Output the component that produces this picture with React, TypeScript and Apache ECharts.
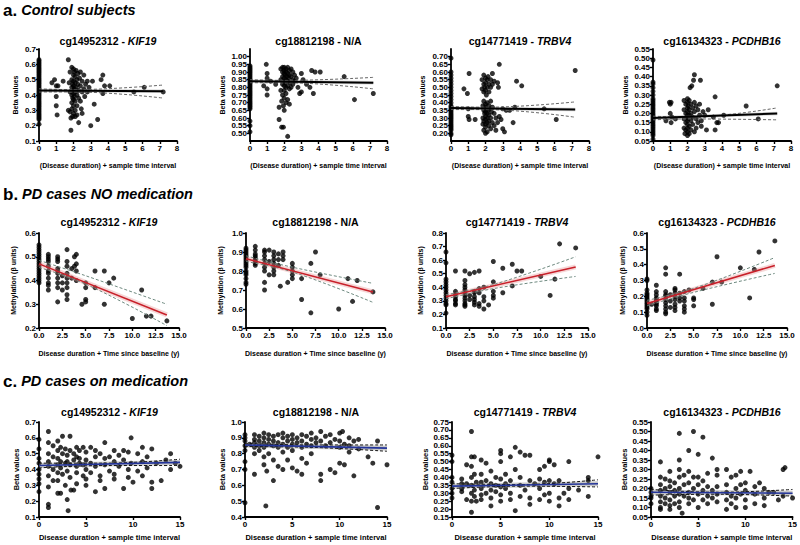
import React, { useEffect, useRef } from "react";
import * as echarts from "echarts";

const FONT = "'Liberation Sans', Arial, Helvetica, sans-serif";

// ---------- texts ----------
const sectionLetters = ["a.", "b.", "c."];
const sectionTitles = ["Control subjects", "PD cases NO medication", "PD cases on medication"];
const probeIds = ["cg14952312", "cg18812198", "cg14771419", "cg16134323"];
const geneNames = ["KIF19", "N/A", "TRBV4", "PCDHB16"];
const xAxisNames = [
  "(Disease duration) + sample time interval",
  "Disease duration + Time since baseline (y)",
  "Disease duration + sample time interval",
];
const yAxisNames = ["Beta values", "Methylation (\u03b2 units)", "Beta values"];

// ---------- axis ranges (min, max, interval) ----------
const xRanges = [[0, 8, 1], [0, 15, 2.5], [0, 15, 5]];
const xDecimals = [0, 1, 0];
const yRanges = [
  [0.1, 0.7, 0.1], [0.45, 1.05, 0.05], [0.15, 0.75, 0.05], [0.05, 0.55, 0.05],
  [0.2, 0.6, 0.1], [0.5, 1.0, 0.1], [0.1, 0.8, 0.1], [0.0, 0.6, 0.1],
  [0.1, 0.7, 0.1], [0.4, 1.0, 0.1], [0.15, 0.75, 0.05], [0.05, 0.55, 0.05],
];
const yDecimals = [1, 2, 2, 2, 1, 1, 1, 1, 1, 1, 2, 2];

// ---------- a. Control subjects ----------
const aKIF19Zero = [0.63,0.62,0.61,0.60,0.59,0.58,0.57,0.56,0.55,0.54,0.53,0.52,0.51,0.50,0.49,0.48,0.47,0.46,0.45,0.44,0.43,0.42,0.41,0.40,0.39,0.38,0.37,0.36,0.35,0.34,0.33,0.32,0.31,0.30,0.29,0.28,0.27,0.26,0.25,0.24,0.21];
const aKIF19Pts = [[0.75,0.48],[0.9,0.5],[1.0,0.46],[1.0,0.39],[1.0,0.33],[1.05,0.27],[1.1,0.46],[1.4,0.49],
  [1.7,0.63],[1.7,0.3],[1.75,0.48],[1.8,0.29],[1.8,0.55],[1.8,0.42],[1.85,0.17],[1.85,0.25],[1.9,0.58],[1.9,0.5],[1.9,0.45],[1.9,0.4],[1.9,0.35],[1.9,0.31],
  [1.95,0.47],[1.95,0.38],[1.95,0.26],[2.0,0.57],[2.0,0.53],[2.0,0.49],[2.0,0.46],[2.0,0.43],[2.0,0.41],[2.0,0.37],[2.0,0.33],[2.0,0.28],
  [2.05,0.55],[2.05,0.44],[2.05,0.39],[2.1,0.52],[2.1,0.48],[2.1,0.42],[2.1,0.36],[2.1,0.3],[2.1,0.26],[2.15,0.56],[2.15,0.45],
  [2.2,0.5],[2.2,0.4],[2.2,0.33],[2.2,0.27],[2.25,0.54],[2.25,0.47],[2.3,0.43],[2.3,0.22],[2.3,0.38],[2.35,0.51],[2.4,0.55],[2.4,0.46],[2.4,0.36],
  [2.45,0.31],[2.5,0.49],[2.5,0.42],[2.5,0.28],[2.6,0.53],[2.6,0.44],[2.65,0.39],[2.7,0.47],[2.8,0.49],[2.8,0.42],[2.9,0.45],[3.0,0.2],[3.1,0.49],
  [3.2,0.34],[3.4,0.24],[3.6,0.5],[3.7,0.53],[3.7,0.41],[3.8,0.46],[4.1,0.46],[5.5,0.42],[6.1,0.45],[7.2,0.42]];
const aKIF19Fit = [[0, 0.43], [7.2, 0.425]];
const aKIF19Up = [[0, 0.44], [2, 0.435], [7.2, 0.465]];
const aKIF19Lo = [[0, 0.42], [2, 0.42], [7.2, 0.38]];

const aNAZero = [0.94,0.93,0.92,0.91,0.90,0.89,0.88,0.87,0.86,0.85,0.84,0.83,0.82,0.81,0.80,0.79,0.78,0.77,0.76,0.75,0.74,0.73,0.72,0.71,0.70,0.69,0.68,0.67,0.66,0.58,0.55,0.51];
const aNAPts = [[0.8,0.81],[0.95,0.95],[1.0,0.89],[1.0,0.86],[1.0,0.79],[1.0,0.75],[1.2,0.84],[1.5,0.82],
  [1.7,0.67],[1.7,0.59],[1.8,0.92],[1.8,0.85],[1.8,0.78],[1.85,0.54],[1.85,0.71],[1.9,0.93],[1.9,0.9],[1.9,0.87],[1.9,0.82],[1.9,0.75],[1.95,0.54],[1.95,0.68],
  [2.0,0.93],[2.0,0.91],[2.0,0.89],[2.0,0.86],[2.0,0.84],[2.0,0.81],[2.0,0.78],[2.0,0.73],[2.0,0.65],[2.05,0.88],[2.05,0.83],
  [2.1,0.92],[2.1,0.9],[2.1,0.85],[2.1,0.8],[2.1,0.76],[2.1,0.7],[2.15,0.87],[2.2,0.93],[2.2,0.89],[2.2,0.84],[2.2,0.81],[2.2,0.72],[2.2,0.48],
  [2.25,0.86],[2.3,0.91],[2.3,0.88],[2.3,0.79],[2.3,0.69],[2.35,0.83],[2.4,0.92],[2.4,0.87],[2.4,0.8],[2.5,0.9],[2.5,0.85],[2.5,0.82],
  [2.6,0.88],[2.6,0.84],[2.7,0.86],[2.8,0.8],[2.9,0.76],[3.0,0.89],[3.0,0.77],[3.1,0.85],[3.3,0.82],[3.5,0.8],[3.6,0.91],[3.7,0.76],
  [3.8,0.9],[4.1,0.9],[5.5,0.87],[6.1,0.72],[7.2,0.76]];
const aNAFit = [[0, 0.84], [7.2, 0.83]];
const aNAUp = [[0, 0.85], [2, 0.845], [7.2, 0.865]];
const aNALo = [[0, 0.83], [2, 0.83], [7.2, 0.79]];

const aTRBV4Zero = [0.69,0.60,0.58,0.56,0.54,0.52,0.50,0.48,0.46,0.44,0.42,0.40,0.38,0.37,0.36,0.35,0.34,0.33,0.32,0.31,0.30,0.29,0.28,0.27,0.26,0.25,0.24,0.23,0.22,0.20,0.19];
const aTRBV4Pts = [[0.75,0.49],[0.95,0.46],[1.0,0.36],[1.0,0.31],[1.05,0.59],[1.05,0.29],[1.4,0.29],
  [1.8,0.55],[1.8,0.49],[1.85,0.38],[1.85,0.3],[1.85,0.26],[1.9,0.58],[1.9,0.52],[1.9,0.47],[1.9,0.41],[1.9,0.35],[1.9,0.28],[1.9,0.22],
  [1.95,0.5],[1.95,0.33],[2.0,0.56],[2.0,0.53],[2.0,0.48],[2.0,0.39],[2.0,0.37],[2.0,0.34],[2.0,0.31],[2.0,0.29],[2.0,0.26],[2.0,0.24],[2.0,0.2],
  [2.05,0.45],[2.05,0.36],[2.1,0.55],[2.1,0.5],[2.1,0.4],[2.1,0.33],[2.1,0.3],[2.1,0.27],[2.1,0.21],[2.15,0.57],[2.15,0.35],
  [2.2,0.52],[2.2,0.47],[2.2,0.38],[2.2,0.32],[2.2,0.28],[2.2,0.25],[2.25,0.36],[2.3,0.55],[2.3,0.5],[2.3,0.41],[2.3,0.3],[2.3,0.23],
  [2.35,0.34],[2.4,0.59],[2.4,0.52],[2.4,0.37],[2.4,0.27],[2.5,0.54],[2.5,0.33],[2.5,0.25],[2.6,0.3],[2.6,0.22],[2.7,0.53],[2.7,0.27],
  [2.75,0.5],[2.8,0.65],[2.8,0.31],[2.9,0.29],[3.0,0.23],[3.0,0.36],[3.1,0.21],[3.2,0.35],[3.4,0.35],[3.6,0.27],[3.7,0.37],[3.8,0.54],
  [4.1,0.51],[5.4,0.36],[6.1,0.29],[7.2,0.61]];
const aTRBV4Fit = [[0, 0.365], [7.2, 0.355]];
const aTRBV4Up = [[0, 0.375], [2, 0.37], [7.2, 0.405]];
const aTRBV4Lo = [[0, 0.355], [2, 0.355], [7.2, 0.305]];

const aPCDHZero = [0.49,0.37,0.36,0.34,0.32,0.30,0.28,0.27,0.26,0.25,0.24,0.23,0.22,0.21,0.20,0.19,0.18,0.17,0.16,0.15,0.14,0.13,0.12,0.11,0.10,0.09,0.08,0.06];
const aPCDHPts = [[0.75,0.16],[0.95,0.26],[1.0,0.25],[1.0,0.2],[1.05,0.26],[1.05,0.15],[1.1,0.18],[1.3,0.17],
  [1.8,0.27],[1.8,0.22],[1.8,0.17],[1.8,0.12],[1.85,0.09],[1.9,0.25],[1.9,0.2],[1.9,0.15],[1.9,0.11],[1.95,0.18],
  [2.0,0.28],[2.0,0.26],[2.0,0.23],[2.0,0.21],[2.0,0.19],[2.0,0.16],[2.0,0.14],[2.0,0.12],[2.0,0.1],[2.0,0.08],[2.05,0.24],[2.05,0.17],
  [2.1,0.27],[2.1,0.22],[2.1,0.19],[2.1,0.13],[2.1,0.09],[2.15,0.34],[2.2,0.25],[2.2,0.2],[2.2,0.16],[2.2,0.11],[2.25,0.35],
  [2.3,0.23],[2.3,0.18],[2.3,0.14],[2.35,0.38],[2.4,0.41],[2.4,0.26],[2.4,0.21],[2.4,0.1],[2.5,0.24],[2.5,0.17],[2.5,0.12],
  [2.6,0.22],[2.6,0.15],[2.7,0.25],[2.7,0.19],[2.75,0.38],[2.8,0.16],[2.8,0.13],[2.9,0.21],[3.0,0.19],[3.1,0.11],[3.2,0.22],
  [3.5,0.18],[3.6,0.11],[3.6,0.29],[3.7,0.15],[3.8,0.15],[4.1,0.19],[5.4,0.24],[6.1,0.17],[7.2,0.35]];
const aPCDHFit = [[0, 0.175], [7.2, 0.2]];
const aPCDHUp = [[0, 0.185], [2, 0.18], [7.2, 0.23]];
const aPCDHLo = [[0, 0.165], [2, 0.17], [7.2, 0.165]];

// ---------- b. PD cases NO medication ----------
const bKIF19Zero = [0.55,0.54,0.53,0.52,0.51,0.50,0.49,0.48,0.47,0.46,0.45,0.44,0.43,0.42,0.41,0.40,0.39];
const bKIF19Pts = [[1,0.51],[1,0.5],[1,0.49],[1,0.48],[1,0.46],[1,0.44],[1,0.43],[1,0.41],[1,0.39],[1,0.38],[1,0.36],
  [2,0.5],[2,0.49],[2,0.48],[2,0.45],[2,0.44],[2,0.43],[2,0.41],[2,0.39],[2,0.37],[2,0.31],[2.5,0.39],[2.5,0.36],[2.5,0.42],
  [3,0.53],[3,0.48],[3,0.46],[3,0.43],[3,0.41],[3,0.39],[3,0.37],[3,0.34],[3,0.32],[3.5,0.45],[3.5,0.41],[3.8,0.5],[3.8,0.46],
  [4,0.51],[4,0.47],[4,0.44],[4,0.4],[4.6,0.3],[5,0.39],[5,0.37],[5,0.32],[5,0.31],[6,0.44],[6,0.37],[7,0.44],[7,0.3],
  [7.5,0.39],[8,0.41],[10,0.24],[11,0.36],[11.5,0.25],[12,0.25],[13.7,0.23]];
const bKIF19Fit = [[0, 0.47], [13.7, 0.255]];
const bKIF19Up = [[0, 0.485], [5, 0.42], [13.7, 0.3]];
const bKIF19Lo = [[0, 0.455], [5, 0.385], [13.7, 0.21]];

const bNAZero = [0.92,0.91,0.90,0.89,0.88,0.87,0.86,0.85,0.84,0.83,0.82,0.80,0.79,0.78,0.76,0.74,0.73];
const bNAPts = [[1,0.93],[1,0.91],[1,0.89],[1,0.88],[1,0.87],[1,0.86],[1,0.85],[1,0.84],[1,0.83],
  [2,0.91],[2,0.9],[2,0.88],[2,0.86],[2,0.84],[2,0.82],[2,0.8],[2,0.74],[2,0.7],[2.5,0.91],[2.5,0.85],[2.5,0.78],
  [3,0.9],[3,0.88],[3,0.86],[3,0.84],[3,0.82],[3,0.8],[3,0.78],[3.5,0.89],[3.5,0.86],[3.5,0.83],[3.7,0.72],
  [4,0.9],[4,0.88],[4,0.86],[4.5,0.74],[5,0.84],[5,0.82],[5,0.8],[5,0.78],[5,0.76],[6,0.76],[6,0.65],[7,0.84],[7,0.58],
  [7.5,0.9],[8,0.78],[10,0.6],[11,0.76],[11.5,0.64],[12,0.75],[13.7,0.69]];
const bNAFit = [[0, 0.865], [13.7, 0.69]];
const bNAUp = [[0, 0.88], [5, 0.82], [13.7, 0.735]];
const bNALo = [[0, 0.85], [5, 0.795], [13.7, 0.635]];

const bTRBV4Zero = [0.66,0.58,0.46,0.44,0.42,0.40,0.38,0.36,0.34,0.32,0.30,0.28,0.27,0.21];
const bTRBV4Pts = [[1,0.52],[1,0.37],[1,0.35],[1,0.33],[1,0.31],[1,0.3],[1,0.28],[1,0.27],
  [2,0.52],[2,0.45],[2,0.42],[2,0.4],[2,0.38],[2,0.36],[2,0.34],[2,0.32],[2,0.3],[2,0.28],[2,0.27],[2,0.26],[2.5,0.5],[2.5,0.34],[2.5,0.31],
  [3,0.51],[3,0.37],[3,0.36],[3,0.33],[3,0.31],[3,0.29],[3,0.27],[3.5,0.52],[3.5,0.39],[3.5,0.36],[3.5,0.28],[3.5,0.26],
  [4,0.4],[4,0.33],[4,0.3],[4,0.24],[4.5,0.27],[5,0.59],[5,0.44],[5,0.37],[5,0.34],[5,0.32],[6,0.54],[6,0.36],[7,0.57],[7,0.41],
  [7.5,0.52],[8,0.52],[10,0.48],[11,0.34],[11.5,0.46],[12,0.72],[13.7,0.69]];
const bTRBV4Fit = [[0, 0.33], [13.7, 0.55]];
const bTRBV4Up = [[0, 0.345], [5, 0.42], [13.7, 0.625]];
const bTRBV4Lo = [[0, 0.315], [5, 0.39], [13.7, 0.48]];

const bPCDHZero = [0.31,0.30,0.24,0.22,0.21,0.20,0.19,0.18,0.17,0.16,0.15,0.14,0.13,0.12,0.10,0.08];
const bPCDHPts = [[0.5,0.15],[1,0.27],[1,0.23],[1,0.21],[1,0.19],[1,0.18],[1,0.17],[1,0.16],[1,0.15],[1,0.14],[1,0.12],[1,0.11],
  [2,0.38],[2,0.34],[2,0.23],[2,0.21],[2,0.2],[2,0.18],[2,0.16],[2,0.14],[2,0.12],[2,0.1],[2,0.09],[2.5,0.21],[2.5,0.17],[2.5,0.13],
  [3,0.25],[3,0.24],[3,0.22],[3,0.2],[3,0.18],[3,0.15],[3,0.13],[3,0.11],[3.5,0.34],[3.5,0.22],[3.5,0.19],[3.5,0.17],
  [4,0.23],[4,0.19],[4,0.17],[4,0.14],[4,0.12],[4,0.1],[4.5,0.24],[5,0.19],[5,0.18],[5,0.14],[6,0.25],[7,0.29],[7,0.15],
  [7.5,0.45],[8,0.29],[10,0.38],[11,0.19],[11.5,0.37],[12,0.48],[13.7,0.55]];
const bPCDHFit = [[0, 0.155], [13.7, 0.395]];
const bPCDHUp = [[0, 0.175], [5, 0.25], [13.7, 0.445]];
const bPCDHLo = [[0, 0.14], [5, 0.225], [13.7, 0.345]];

// ---------- c. PD cases on medication ----------
const cKIF19Zero = [0.59,0.53,0.47,0.44,0.40,0.37,0.34,0.31,0.26];
const cKIF19Pts = [[1,0.64],[1,0.57],[1,0.5],[1,0.45],[1,0.42],[1,0.36],[1,0.29],[1,0.18],[1,0.16],
  [1.5,0.55],[1.5,0.48],[1.5,0.4],[1.5,0.33],[2,0.58],[2,0.52],[2,0.47],[2,0.43],[2,0.38],[2,0.33],[2,0.25],
  [2.3,0.54],[2.3,0.45],[2.3,0.41],[2.3,0.25],[2.5,0.61],[2.5,0.5],[2.5,0.37],[2.8,0.53],[2.8,0.44],[2.8,0.3],
  [3,0.49],[3,0.45],[3,0.39],[3,0.21],[3.1,0.14],[3.3,0.61],[3.3,0.52],[3.3,0.43],[3.3,0.35],[3.4,0.27],[3.7,0.5],[3.7,0.46],[3.7,0.27],
  [4,0.54],[4,0.48],[4,0.42],[4,0.38],[4,0.31],[4.3,0.52],[4.3,0.47],[4.3,0.44],[4.7,0.54],[4.7,0.43],[4.7,0.36],
  [5,0.51],[5,0.46],[5,0.4],[5,0.34],[5,0.3],[5.5,0.54],[5.5,0.44],[5.5,0.38],[6,0.52],[6,0.48],[6,0.42],[6,0.26],
  [6.5,0.5],[6.5,0.36],[6.5,0.33],[7,0.57],[7,0.47],[7,0.43],[7,0.28],[7.5,0.48],[7.5,0.39],[8,0.52],[8,0.45],[8,0.37],[8,0.34],
  [8.5,0.49],[8.5,0.42],[9,0.52],[9,0.46],[9,0.28],[9.5,0.51],[9.5,0.4],[9.5,0.35],[9.8,0.6],[9.8,0.44],[10,0.32],
  [10.5,0.5],[10.5,0.39],[11,0.54],[11,0.45],[11,0.36],[11.5,0.48],[11.5,0.41],[12,0.53],[12,0.32],[12,0.28],
  [12.5,0.44],[13,0.33],[13.5,0.46],[14,0.5],[14,0.4],[14.5,0.44],[15,0.42]];
const cKIF19Fit = [[0, 0.425], [15, 0.445]];
const cKIF19Up = [[0, 0.44], [7, 0.44], [15, 0.465]];
const cKIF19Lo = [[0, 0.41], [7, 0.425], [15, 0.425]];

const cNAZero = [0.92,0.90,0.88,0.85,0.82,0.75,0.70,0.49];
const cNAPts = [[0.5,0.86],[1,0.92],[1,0.89],[1,0.87],[1,0.84],[1,0.8],[1,0.67],[1.5,0.91],[1.5,0.88],[1.5,0.85],[1.5,0.82],
  [2,0.93],[2,0.9],[2,0.87],[2,0.84],[2,0.78],[2,0.73],[2.2,0.47],[2.3,0.69],[2.5,0.92],[2.5,0.89],[2.5,0.86],[2.5,0.8],
  [3,0.91],[3,0.88],[3,0.85],[3,0.76],[3,0.63],[3.5,0.92],[3.5,0.87],[3.5,0.84],[3.5,0.72],[4,0.93],[4,0.9],[4,0.86],[4,0.81],[4,0.7],
  [4.5,0.91],[4.5,0.88],[4.5,0.84],[4.5,0.76],[5,0.92],[5,0.89],[5,0.86],[5,0.82],[5,0.71],[5.5,0.9],[5.5,0.87],[5.5,0.69],
  [6,0.92],[6,0.88],[6,0.84],[6,0.77],[6,0.67],[6.5,0.91],[6.5,0.86],[6.5,0.74],[7,0.93],[7,0.89],[7,0.85],[7,0.8],
  [7.5,0.9],[7.5,0.87],[8,0.94],[8,0.88],[8,0.67],[8,0.63],[8.5,0.91],[8.5,0.85],[9,0.92],[9,0.87],[9,0.7],[9.5,0.89],[9.5,0.68],
  [10,0.93],[10,0.88],[10,0.84],[10,0.74],[10.3,0.94],[10.5,0.86],[10.5,0.73],[11,0.9],[11,0.85],[11,0.81],[11.5,0.88],[11.5,0.66],
  [12,0.89],[12,0.83],[13,0.78],[13.5,0.74],[14,0.88],[14,0.46],[15,0.73]];
const cNAFit = [[0, 0.855], [15, 0.835]];
const cNAUp = [[0, 0.865], [7, 0.855], [15, 0.855]];
const cNALo = [[0, 0.845], [7, 0.84], [15, 0.815]];

const cTRBV4Zero = [0.54,0.50,0.40,0.37,0.33,0.30,0.27];
const cTRBV4Pts = [[1,0.39],[1,0.36],[1,0.33],[1,0.31],[1.5,0.48],[1.5,0.36],[1.5,0.26],
  [2,0.69],[2,0.53],[2,0.47],[2,0.4],[2,0.35],[2,0.3],[2,0.25],[2,0.18],[2.3,0.53],[2.3,0.42],[2.3,0.32],[2.3,0.28],[2.5,0.37],[2.5,0.25],
  [3,0.51],[3,0.42],[3,0.37],[3,0.33],[3,0.29],[3,0.26],[3.5,0.49],[3.5,0.38],[3.5,0.3],[4,0.44],[4,0.36],[4,0.32],[4,0.27],[4,0.22],
  [4.5,0.4],[4.5,0.35],[4.5,0.31],[5,0.57],[5,0.55],[5,0.5],[5,0.39],[5,0.34],[5,0.29],[5,0.25],[5.5,0.42],[5.5,0.36],[5.5,0.33],
  [6,0.53],[6,0.38],[6,0.3],[6,0.26],[6.5,0.59],[6.5,0.19],[6.5,0.45],[7,0.56],[7,0.4],[7,0.35],[7,0.28],[7.5,0.54],[7.5,0.32],
  [8,0.54],[8,0.38],[8,0.27],[8,0.23],[8.5,0.36],[9,0.45],[9,0.39],[9,0.33],[9,0.26],[9.5,0.47],[9.5,0.37],[9.5,0.29],
  [10,0.51],[10,0.5],[10,0.38],[10,0.3],[10,0.25],[10.5,0.48],[10.5,0.36],[11,0.38],[11,0.27],[11,0.22],[11.5,0.3],
  [12,0.5],[12,0.33],[12,0.26],[13,0.32],[14,0.4],[14,0.38],[14,0.28],[15,0.53]];
const cTRBV4Fit = [[0, 0.345], [15, 0.36]];
const cTRBV4Up = [[0, 0.36], [7, 0.355], [15, 0.385]];
const cTRBV4Lo = [[0, 0.33], [7, 0.345], [15, 0.34]];

const cPCDHZero = [0.20,0.18,0.16,0.15,0.12];
const cPCDHPts = [[1,0.34],[1,0.26],[1,0.22],[1,0.19],[1,0.16],[1,0.13],[1,0.1],[1,0.09],[1.5,0.25],[1.5,0.2],[1.5,0.15],[1.5,0.12],
  [2,0.29],[2,0.24],[2,0.21],[2,0.18],[2,0.14],[2,0.11],[2,0.09],[2.5,0.23],[2.5,0.19],[2.5,0.16],[2.5,0.12],
  [3,0.49],[3,0.35],[3,0.3],[3,0.26],[3,0.2],[3,0.17],[3,0.13],[3,0.1],[3.3,0.07],[3.5,0.27],[3.5,0.22],[3.5,0.16],
  [4,0.4],[4,0.29],[4,0.23],[4,0.18],[4,0.15],[4,0.12],[4.5,0.5],[4.5,0.26],[4.5,0.2],[4.5,0.14],[5,0.38],[5,0.26],[5,0.22],[5,0.17],[5,0.1],
  [5.5,0.47],[5.5,0.24],[5.5,0.19],[5.5,0.14],[6,0.28],[6,0.21],[6,0.16],[6,0.12],[6.5,0.36],[6.5,0.19],[6.5,0.15],
  [7,0.3],[7,0.27],[7,0.21],[7,0.17],[7,0.13],[8,0.3],[8,0.22],[8,0.18],[8,0.14],[8,0.09],[8.5,0.26],[8.5,0.16],[8.5,0.12],
  [9,0.27],[9,0.2],[9,0.15],[9,0.1],[9.5,0.29],[9.5,0.22],[9.5,0.17],[10,0.23],[10,0.19],[10,0.14],[10,0.1],[10.5,0.29],
  [11,0.21],[11,0.17],[11,0.12],[11.5,0.23],[12,0.2],[12,0.15],[12,0.11],[12.5,0.18],[13,0.18],[13.5,0.14],[14,0.3],[14.2,0.31],[14,0.16],[15,0.15]];
const cPCDHFit = [[0, 0.18], [15, 0.175]];
const cPCDHUp = [[0, 0.195], [7, 0.18], [15, 0.195]];
const cPCDHLo = [[0, 0.165], [7, 0.17], [15, 0.16]];

const panelSeries = [
  [aKIF19Zero, aKIF19Pts, aKIF19Fit, aKIF19Up, aKIF19Lo],
  [aNAZero, aNAPts, aNAFit, aNAUp, aNALo],
  [aTRBV4Zero, aTRBV4Pts, aTRBV4Fit, aTRBV4Up, aTRBV4Lo],
  [aPCDHZero, aPCDHPts, aPCDHFit, aPCDHUp, aPCDHLo],
  [bKIF19Zero, bKIF19Pts, bKIF19Fit, bKIF19Up, bKIF19Lo],
  [bNAZero, bNAPts, bNAFit, bNAUp, bNALo],
  [bTRBV4Zero, bTRBV4Pts, bTRBV4Fit, bTRBV4Up, bTRBV4Lo],
  [bPCDHZero, bPCDHPts, bPCDHFit, bPCDHUp, bPCDHLo],
  [cKIF19Zero, cKIF19Pts, cKIF19Fit, cKIF19Up, cKIF19Lo],
  [cNAZero, cNAPts, cNAFit, cNAUp, cNALo],
  [cTRBV4Zero, cTRBV4Pts, cTRBV4Fit, cTRBV4Up, cTRBV4Lo],
  [cPCDHZero, cPCDHPts, cPCDHFit, cPCDHUp, cPCDHLo],
] as any[];

// ---------- layout ----------
const rowTops = [49, 233, 422];
const rowHeights = [92, 95, 95];
const panelLefts = [[39, 250, 451, 653], [39, 246, 446, 647], [39, 245, 452, 651]];
const panelWidths = [[138, 137, 138, 138], [140, 139, 142, 140], [141, 142, 146, 142]];
const titleYs = [41, 222, 412];
const sectionYs = [10, 194, 381];
const yNameGaps = [[20, 24, 25, 24], [22, 22, 22, 21], [18, 18, 20, 20]];
const xNameGaps = [21, 22, 16];
const fitColors = ["#000000", "#c8202a", "#23349a"];
const fitWidths = [2, 1.6, 1.6];
const bandColors = ["#666666", "#6f8a80", "#111111"];
const glowColors = ["rgba(120,120,120,0.3)", "rgba(230,140,140,0.35)", "rgba(120,120,120,0.4)"];
const glowWidths = [3.5, 5, 5];

function buildOption() {
  const grid: any[] = [], xAxis: any[] = [], yAxis: any[] = [], series: any[] = [], graphic: any[] = [];
  for (let r = 0; r < 3; r++) {
    graphic.push({
      type: "text", x: 3, y: sectionYs[r],
      style: {
        text: `{l|${sectionLetters[r]}}{t| ${sectionTitles[r]}}`,
        rich: {
          l: { fontSize: 17, fontWeight: "bold", fontFamily: FONT, fill: "#000", color: "#000" },
          t: { fontSize: 14.5, fontWeight: "bold", fontStyle: "italic", fontFamily: FONT, fill: "#000", color: "#000" },
        },
        align: "left", verticalAlign: "middle", textAlign: "left", textVerticalAlign: "middle",
      },
    });
    for (let c = 0; c < 4; c++) {
      const i = r * 4 + c;
      const left = panelLefts[r][c], width = panelWidths[r][c];
      grid.push({ left, top: rowTops[r], width, height: rowHeights[r], containLabel: false });
      const gene = geneNames[c];
      const gStyle = gene === "N/A" ? "n" : "g";
      graphic.push({
        type: "text", x: left + width / 2, y: titleYs[r],
        style: {
          text: `{n|${probeIds[c]} - }{${gStyle}|${gene}}`,
          rich: {
            n: { fontSize: 10.5, fontWeight: "bold", fontFamily: FONT, fill: "#000", color: "#000" },
            g: { fontSize: 10.5, fontWeight: "bold", fontStyle: "italic", fontFamily: FONT, fill: "#000", color: "#000" },
          },
          align: "center", verticalAlign: "middle", textAlign: "center", textVerticalAlign: "middle",
        },
      });
      const [xmin, xmax, xint] = xRanges[r];
      const [ymin, ymax, yint] = yRanges[i];
      const axisCommon = {
        axisLine: { show: true, onZero: false, lineStyle: { color: "#000", width: 1.8 } },
        axisTick: { show: true, length: 3, lineStyle: { color: "#000", width: 1.4 } },
        splitLine: { show: false },
        nameLocation: "middle",
        nameTextStyle: { fontSize: r === 2 ? 7.5 : 7, fontWeight: "bold", color: "#000", fontFamily: FONT },
      };
      xAxis.push({
        ...axisCommon, type: "value", gridIndex: i, min: xmin, max: xmax, interval: xint,
        name: xAxisNames[r], nameGap: xNameGaps[r],
        axisLabel: { fontSize: 8, fontWeight: "bold", color: "#000", fontFamily: FONT, margin: 3,
          formatter: (v: number) => v.toFixed(xDecimals[r]) },
      });
      yAxis.push({
        ...axisCommon, type: "value", gridIndex: i, min: ymin, max: ymax, interval: yint,
        name: yAxisNames[r], nameGap: yNameGaps[r][c], nameRotate: 90,
        axisLabel: { fontSize: 8, fontWeight: "bold", color: "#000", fontFamily: FONT, margin: 3,
          formatter: (v: number) => v.toFixed(yDecimals[i]) },
      });
      const [zero, pts, fit, up, lo] = panelSeries[i];
      const data = [...zero.map((y: number) => [0, y]), ...pts];
      series.push({
        type: "scatter", xAxisIndex: i, yAxisIndex: i, data, symbol: "circle", symbolSize: 5,
        itemStyle: { color: "#000" }, clip: false, silent: true,
      });
      series.push({
        type: "line", xAxisIndex: i, yAxisIndex: i, data: fit, symbol: "none",
        lineStyle: { color: glowColors[r], width: glowWidths[r] }, silent: true,
      });
      [up, lo].forEach((band: any) => {
        series.push({
          type: "line", xAxisIndex: i, yAxisIndex: i, data: band, symbol: "none", smooth: 0.4,
          lineStyle: { color: bandColors[r], width: 1, type: [3, 2] }, silent: true,
        });
      });
      series.push({
        type: "line", xAxisIndex: i, yAxisIndex: i, data: fit, symbol: "none",
        lineStyle: { color: fitColors[r], width: fitWidths[r] }, silent: true,
      });
    }
  }
  return { animation: false, backgroundColor: "#fff", grid, xAxis, yAxis, series, graphic, tooltip: { show: false } };
}

export default function App() {
  const ref = useRef<HTMLDivElement>(null);
  useEffect(() => {
    const chart = echarts.init(ref.current!, null, { renderer: "svg" });
    chart.setOption(buildOption() as any);
    return () => chart.dispose();
  }, []);
  return (
    <div
      ref={ref}
      style={{ position: "absolute", left: 0, top: 0, width: 800, height: 545, background: "#fff" }}
    />
  );
}
